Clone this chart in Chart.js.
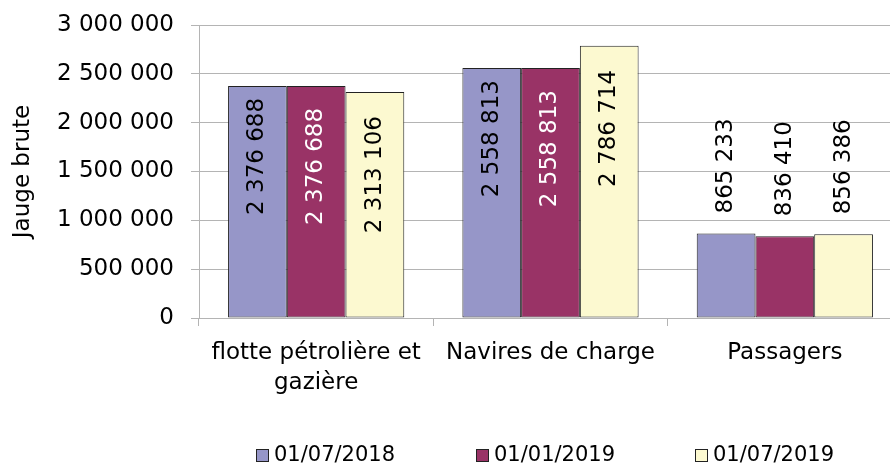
<!DOCTYPE html>
<html lang="fr">
<head>
<meta charset="utf-8">
<title>Jauge brute</title>
<script src="https://cdn.jsdelivr.net/npm/chart.js@4.4.1/dist/chart.umd.min.js"></script>
<style>
  html, body { margin: 0; padding: 0; background: #fff; overflow: hidden; }
  #wrap { width: 902px; height: 465px; }
</style>
</head>
<body>
<div id="wrap"><canvas id="chart" width="902" height="465"></canvas></div>
<script>
'use strict';

// données
var categories = [['flotte pétrolière et', 'gazière'], 'Navires de charge', 'Passagers'];
var seriesLabels = ['01/07/2018', '01/01/2019', '01/07/2019'];
var values2018 = [2376688, 2558813, 865233];
var values2019a = [2376688, 2558813, 836410];
var values2019b = [2313106, 2786714, 856386];
var yTicks = [0, 500000, 1000000, 1500000, 2000000, 2500000, 3000000];

var FONT = '"DejaVu Sans", sans-serif';
var barColors = ['#9696c8', '#993366', '#fcf9d0'];
var labelColors = ['#000000', '#ffffff', '#000000'];
var insideOffset = [12, 22, 24];
var gridColor = '#b4b4b4';

function formatNum(v) {
  return String(v).replace(/\B(?=(\d{3})+(?!\d))/g, ' ');
}

// étiquettes verticales sur les barres
var valueLabels = {
  id: 'valueLabels',
  afterDatasetsDraw: function (chart) {
    var ctx = chart.ctx;
    chart.data.datasets.forEach(function (ds, i) {
      var meta = chart.getDatasetMeta(i);
      meta.data.forEach(function (bar, j) {
        var text = formatNum(ds.data[j]);
        ctx.save();
        ctx.font = '23px ' + FONT;
        var w = ctx.measureText(text).width;
        var h = bar.base - bar.y;
        ctx.textBaseline = 'middle';
        if (w + 30 < h) {
          ctx.translate(bar.x, bar.y + insideOffset[i]);
          ctx.rotate(-Math.PI / 2);
          ctx.textAlign = 'right';
          ctx.fillStyle = labelColors[i];
        } else {
          ctx.translate(bar.x, bar.y - 20);
          ctx.rotate(-Math.PI / 2);
          ctx.textAlign = 'left';
          ctx.fillStyle = '#000000';
        }
        ctx.fillText(text, 0, 0);
        ctx.restore();
      });
    });
  }
};

// légende en bas
var bottomLegend = {
  id: 'bottomLegend',
  afterDraw: function (chart) {
    var ctx = chart.ctx;
    var area = chart.chartArea;
    var step = 219.5;
    var box = 12;
    ctx.save();
    ctx.font = '21px ' + FONT;
    ctx.textBaseline = 'middle';
    var lastW = ctx.measureText(chart.data.datasets[2].label).width;
    var total = step * 2 + box + 6 + lastW;
    var x0 = Math.round((area.left + area.right) / 2 - total / 2) - 5;
    var yc = 455;
    chart.data.datasets.forEach(function (ds, i) {
      var x = Math.round(x0 + i * step);
      ctx.fillStyle = ds.backgroundColor;
      ctx.fillRect(x + 0.5, yc - 6 + 0.5, box, box);
      ctx.strokeStyle = '#222';
      ctx.lineWidth = 1;
      ctx.strokeRect(x + 0.5, yc - 6 + 0.5, box, box);
      ctx.fillStyle = '#000';
      ctx.textAlign = 'left';
      ctx.fillText(ds.label, x + box + 6, yc + 1);
    });
    ctx.restore();
  }
};

var datasets = [values2018, values2019a, values2019b].map(function (vals, i) {
  return {
    label: seriesLabels[i],
    data: vals,
    backgroundColor: barColors[i],
    borderColor: '#222222',
    borderWidth: 1,
    borderSkipped: false,
    barPercentage: 1,
    categoryPercentage: 0.752
  };
});

new Chart(document.getElementById('chart').getContext('2d'), {
  type: 'bar',
  data: { labels: categories, datasets: datasets },
  options: {
    responsive: false,
    animation: false,
    layout: { padding: { top: 25, left: 0, right: 0, bottom: 0 } },
    plugins: {
      legend: { display: false },
      tooltip: { enabled: false }
    },
    scales: {
      x: {
        grid: { display: true, drawOnChartArea: false, drawTicks: true, tickLength: 8, color: gridColor, offset: true },
        border: { display: true, color: gridColor },
        ticks: { color: '#000', padding: 12, maxRotation: 0, autoSkip: false, font: { family: FONT, size: 23, lineHeight: 1.3 } },
        afterFit: function (scale) {
          scale.height = 147;
          scale.paddingLeft = 0;
          scale.paddingRight = 0;
        }
      },
      y: {
        min: 0,
        max: 3000000,
        afterBuildTicks: function (scale) {
          scale.ticks = yTicks.map(function (v) { return { value: v }; });
        },
        grid: { color: gridColor, drawTicks: true, tickLength: 8 },
        border: { display: true, color: gridColor },
        ticks: {
          color: '#000',
          padding: 17,
          font: { family: FONT, size: 23 },
          callback: function (v) { return formatNum(v); }
        },
        title: {
          display: true,
          text: 'Jauge brute',
          color: '#000',
          padding: { top: 9, bottom: 0 },
          font: { family: FONT, size: 23, lineHeight: 1.2 }
        },
        afterFit: function (scale) {
          scale.width = 199;
          scale.paddingTop = 0;
          scale.paddingBottom = 0;
        }
      }
    }
  },
  plugins: [valueLabels, bottomLegend]
});
</script>
</body>
</html>
